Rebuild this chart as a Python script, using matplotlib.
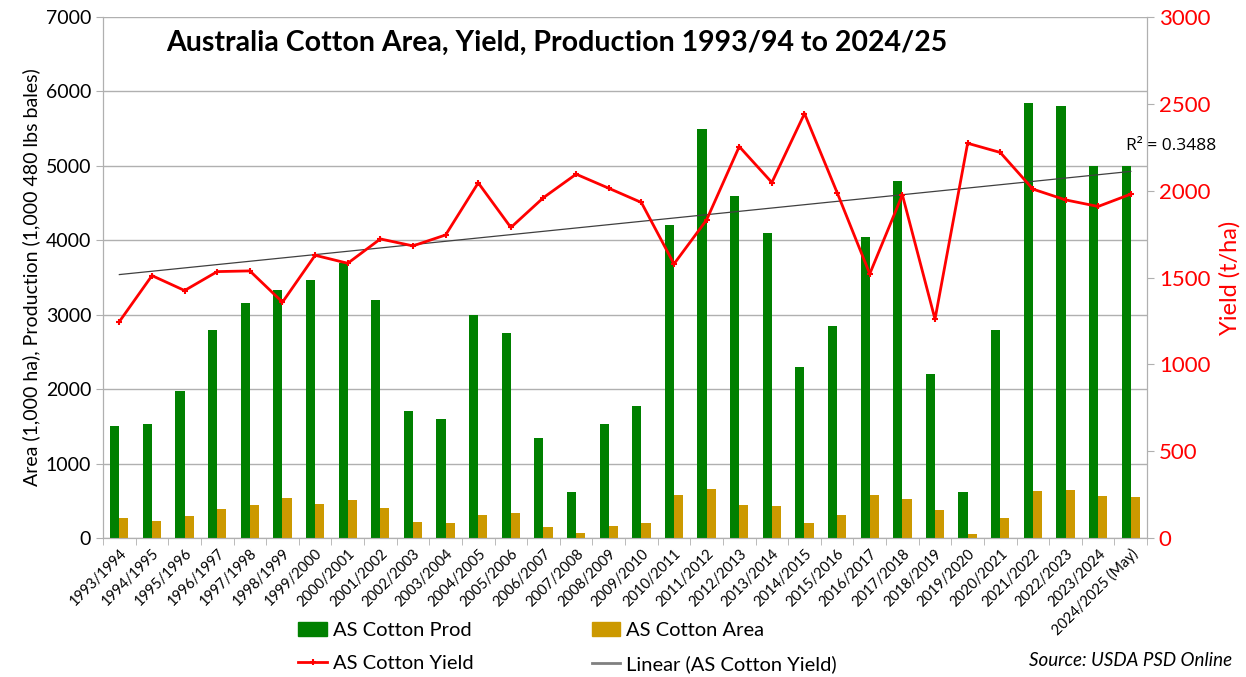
import numpy as np
import matplotlib
matplotlib.use("Agg")
import matplotlib.pyplot as plt
from matplotlib.lines import Line2D
from matplotlib.patches import Patch

plt.rcParams['font.family'] = ['Lato', 'DejaVu Sans']

seasons = ['1993/1994', '1994/1995', '1995/1996', '1996/1997', '1997/1998', '1998/1999',
           '1999/2000', '2000/2001', '2001/2002', '2002/2003', '2003/2004', '2004/2005',
           '2005/2006', '2006/2007', '2007/2008', '2008/2009', '2009/2010', '2010/2011',
           '2011/2012', '2012/2013', '2013/2014', '2014/2015', '2015/2016', '2016/2017',
           '2017/2018', '2018/2019', '2019/2020', '2020/2021', '2021/2022', '2022/2023',
           '2023/2024', '2024/2025 (May)']

# production, 1,000 480 lb bales
prod = [1500, 1530, 1970, 2800, 3160, 3330, 3460, 3700, 3200, 1700, 1600, 3000,
        2750, 1350, 620, 1530, 1780, 4200, 5500, 4600, 4100, 2300, 2850, 4050,
        4800, 2200, 620, 2800, 5850, 5800, 5000, 5000]

# area, 1,000 ha
area = [265, 224, 296, 390, 448, 533, 457, 511, 399, 215, 197, 313,
        332, 148, 63, 161, 197, 574, 654, 443, 430, 206, 309, 574,
        524, 376, 54, 273, 632, 649, 565, 551]

# yield
yld = [1246, 1511, 1425, 1534, 1538, 1358, 1628, 1582, 1722, 1682, 1745, 2045,
       1788, 1960, 2095, 2014, 1932, 1578, 1832, 2254, 2047, 2444, 1989, 1521,
       1976, 1260, 2273, 2220, 2009, 1947, 1909, 1980]

green = '#008000'
gold = '#CC9900'
red = '#FF0000'
grey = '#b0b0b0'

fig = plt.figure(figsize=(12.46, 6.77), dpi=100)
ax = fig.add_axes([0.0827, 0.2053, 0.8379, 0.7696])
ax2 = ax.twinx()

x = np.arange(len(seasons))
w = 0.28
ax.bar(x - w / 2, prod, width=w, color=green, zorder=3)
ax.bar(x + w / 2, area, width=w, color=gold, zorder=3)

ax.set_ylim(0, 7000)
ax.set_yticks(range(0, 7001, 1000))
ax.set_xlim(-0.5, len(seasons) - 0.5)
ax.grid(axis='y', color=grey, lw=1, zorder=0)
ax.set_axisbelow(True)

ax.set_xticks(x)
ax.set_xticklabels(seasons, rotation=45, ha='right', rotation_mode='anchor', fontsize=10.5)
ax.set_xticks(np.arange(-0.5, len(seasons), 1), minor=True)
ax.tick_params(axis='x', which='major', length=0, pad=6)
ax.tick_params(axis='x', which='minor', length=5, color=grey)
ax.tick_params(axis='y', labelsize=14, length=5, color=grey)
ax.set_ylabel('Area (1,000 ha), Production (1,000 480 lbs bales)', fontsize=14)

ax.spines['top'].set_visible(False)
ax2.spines['top'].set_visible(False)
for a in (ax, ax2):
    for s in ('left', 'right', 'bottom'):
        a.spines[s].set_color(grey)

# yield line + linear trend
ax2.plot(x, yld, color=red, lw=2, marker='+', ms=5, mew=1.5, zorder=5)
coef = np.polyfit(x, yld, 1)
ax2.plot(x, np.polyval(coef, x), color='#404040', lw=0.9, zorder=4)
ax2.set_ylim(0, 3000)
ax2.set_yticks(range(0, 3001, 500))
ax2.tick_params(axis='y', labelsize=16, labelcolor=red, length=5, color=grey)
ax2.set_ylabel('Yield (t/ha)', fontsize=17, color=red, labelpad=6)
ax2.text(x[-1] - 0.15, 2258, 'R² = 0.3488', fontsize=12.5, ha='left', va='center',
         family=['Open Sans', 'DejaVu Sans'])

fig.text(0.133, 0.937, 'Australia Cotton Area, Yield, Production 1993/94 to 2024/25',
         fontsize=20.5, fontweight='bold', va='center')

handles = [Patch(color=green, label='AS Cotton Prod'),
           Line2D([], [], color=red, lw=2, marker='+', ms=5, mew=1.5, label='AS Cotton Yield'),
           Patch(color=gold, label='AS Cotton Area'),
           Line2D([], [], color='#808080', lw=2, label='Linear (AS Cotton Yield)')]
fig.legend(handles=handles, ncol=2, loc='center left', bbox_to_anchor=(0.225, 0.044),
           frameon=False, fontsize=14.5, columnspacing=5.9, handlelength=1.4,
           handletextpad=0.3, labelspacing=0.8)

fig.text(0.989, 0.012, 'Source: USDA PSD Online', fontsize=13.5, style='italic',
         ha='right', va='bottom')

fig.savefig('out.png', dpi=100)
